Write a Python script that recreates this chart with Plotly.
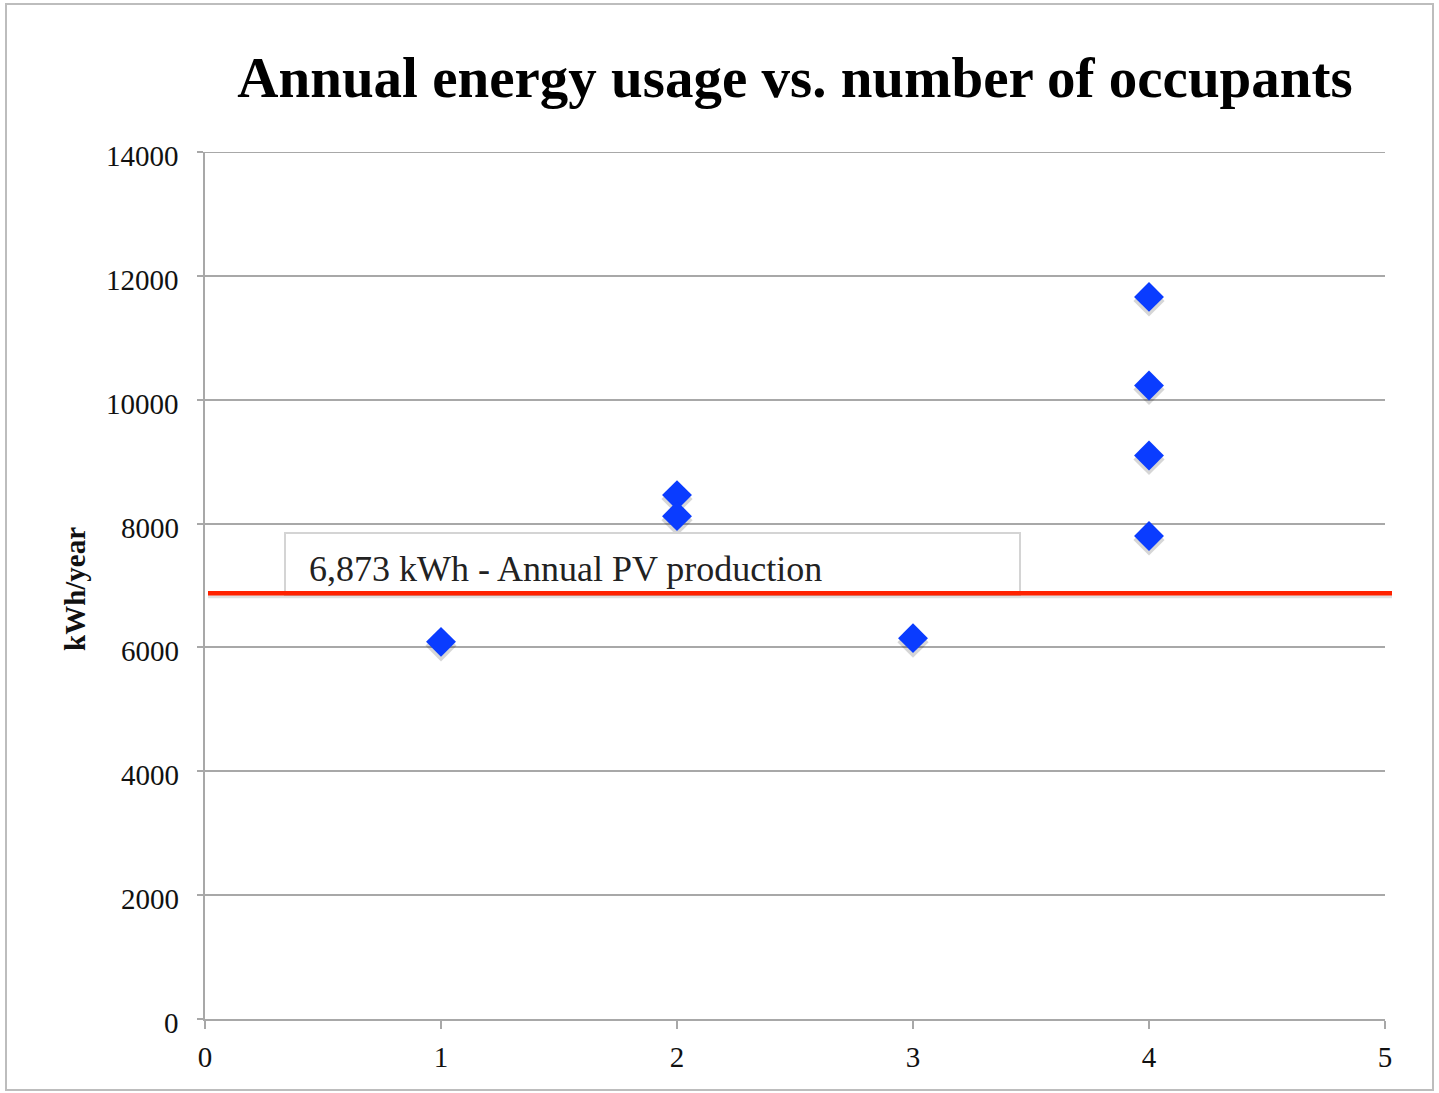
import plotly.graph_objects as go

# Household measurements: occupants vs. annual electricity use (kWh/year)
occupants = [1, 2, 2, 3, 4, 4, 4, 4]
usage_kwh = [6090, 8460, 8120, 6150, 11660, 10230, 9100, 7800]

# Annual PV production reference level
pv_production = 6873
pv_label = "6,873 kWh - Annual PV production"

x_ticks = [0, 1, 2, 3, 4, 5]
y_ticks = [0, 2000, 4000, 6000, 8000, 10000, 12000, 14000]
y_tick_text = [str(v) for v in y_ticks]

W, H = 1439, 1093
L, R, T, B = 205, 54, 152, 74
pw, ph = W - L - R, H - T - B


def px_x(p):
    return (p - L) / pw


def px_y(p):
    return (H - B - p) / ph


SERIF = "Liberation Serif, Times New Roman, serif"
GRID = "#a8a8a8"
TICK_FONT = dict(family=SERIF, size=29, color="#111111")

# small downward offset for the marker shadow, expressed in data units
shadow_dy = 4 / ph * (y_ticks[-1] - y_ticks[0])

fig = go.Figure()

fig.add_trace(go.Scatter(
    x=occupants, y=[v - shadow_dy for v in usage_kwh],
    mode="markers",
    marker=dict(symbol="diamond", size=24, color="rgba(0,0,0,0.16)", line=dict(width=0)),
    hoverinfo="skip", showlegend=False,
))
fig.add_trace(go.Scatter(
    x=occupants, y=usage_kwh,
    mode="markers",
    marker=dict(symbol="diamond", size=23, color="#0a3cff", line=dict(width=0)),
    showlegend=False,
))

shapes = [
    # outer chart frame
    dict(type="rect", xref="paper", yref="paper",
         x0=px_x(6), x1=px_x(1433), y0=px_y(1090), y1=px_y(4),
         line=dict(color="#bdbdbd", width=2), fillcolor="rgba(0,0,0,0)", layer="below"),
    # top gridline at the axis maximum
    dict(type="line", xref="paper", yref="y",
         x0=px_x(199), x1=1, y0=y_ticks[-1], y1=y_ticks[-1],
         line=dict(color=GRID, width=2), layer="below"),
    # label box
    dict(type="rect", xref="paper", yref="paper",
         x0=px_x(285), x1=px_x(1020), y0=px_y(595), y1=px_y(533),
         line=dict(color="#d4d4d4", width=2), fillcolor="white", layer="above"),
    # PV production line (shadow + line)
    dict(type="line", xref="paper", yref="y",
         x0=px_x(208), x1=px_x(1392), y0=pv_production - shadow_dy * 0.6, y1=pv_production - shadow_dy * 0.6,
         line=dict(color="rgba(0,0,0,0.12)", width=5), layer="above"),
    dict(type="line", xref="paper", yref="y",
         x0=px_x(208), x1=px_x(1392), y0=pv_production, y1=pv_production,
         line=dict(color="#ff2200", width=4.5), layer="above"),
]

annotations = [
    dict(text=pv_label, xref="paper", yref="paper",
         x=px_x(307), y=px_y(569), xanchor="left", yanchor="middle",
         showarrow=False, font=dict(family=SERIF, size=36, color="#222222")),
    dict(text="<b>kWh/year</b>", xref="paper", yref="paper",
         x=px_x(75), y=px_y(589), xanchor="center", yanchor="middle",
         textangle=-90, showarrow=False, font=dict(family=SERIF, size=29, color="#111111")),
]

# y tick labels sit a few pixels below their gridlines
for v, t in zip(y_ticks, y_tick_text):
    annotations.append(dict(
        text=t, xref="paper", yref="y", x=px_x(181), y=v,
        xanchor="right", yanchor="middle", yshift=-4,
        showarrow=False, font=TICK_FONT,
    ))

fig.update_layout(
    width=W, height=H,
    margin=dict(l=L, r=R, t=T, b=B),
    paper_bgcolor="white", plot_bgcolor="white",
    title=dict(text="<b>Annual energy usage vs. number of occupants</b>",
               x=0.5, xref="paper", xanchor="center",
               y=1 - 77 / H, yref="container", yanchor="middle",
               font=dict(family=SERIF, size=57, color="#000000")),
    shapes=shapes,
    annotations=annotations,
)

fig.update_xaxes(
    range=[x_ticks[0], x_ticks[-1]], tickvals=x_ticks,
    showgrid=False, zeroline=False,
    showline=True, linecolor=GRID, linewidth=2,
    ticks="outside", ticklen=8, tickwidth=2, tickcolor=GRID,
    ticklabelstandoff=3,
    tickfont=TICK_FONT,
)
fig.update_yaxes(
    range=[y_ticks[0], y_ticks[-1]], tickvals=y_ticks,
    showticklabels=False,
    showgrid=True, gridcolor=GRID, gridwidth=2, zeroline=False,
    showline=True, linecolor=GRID, linewidth=2,
    ticks="outside", ticklen=6, tickwidth=2, tickcolor=GRID,
)

fig.write_html("out.html")
